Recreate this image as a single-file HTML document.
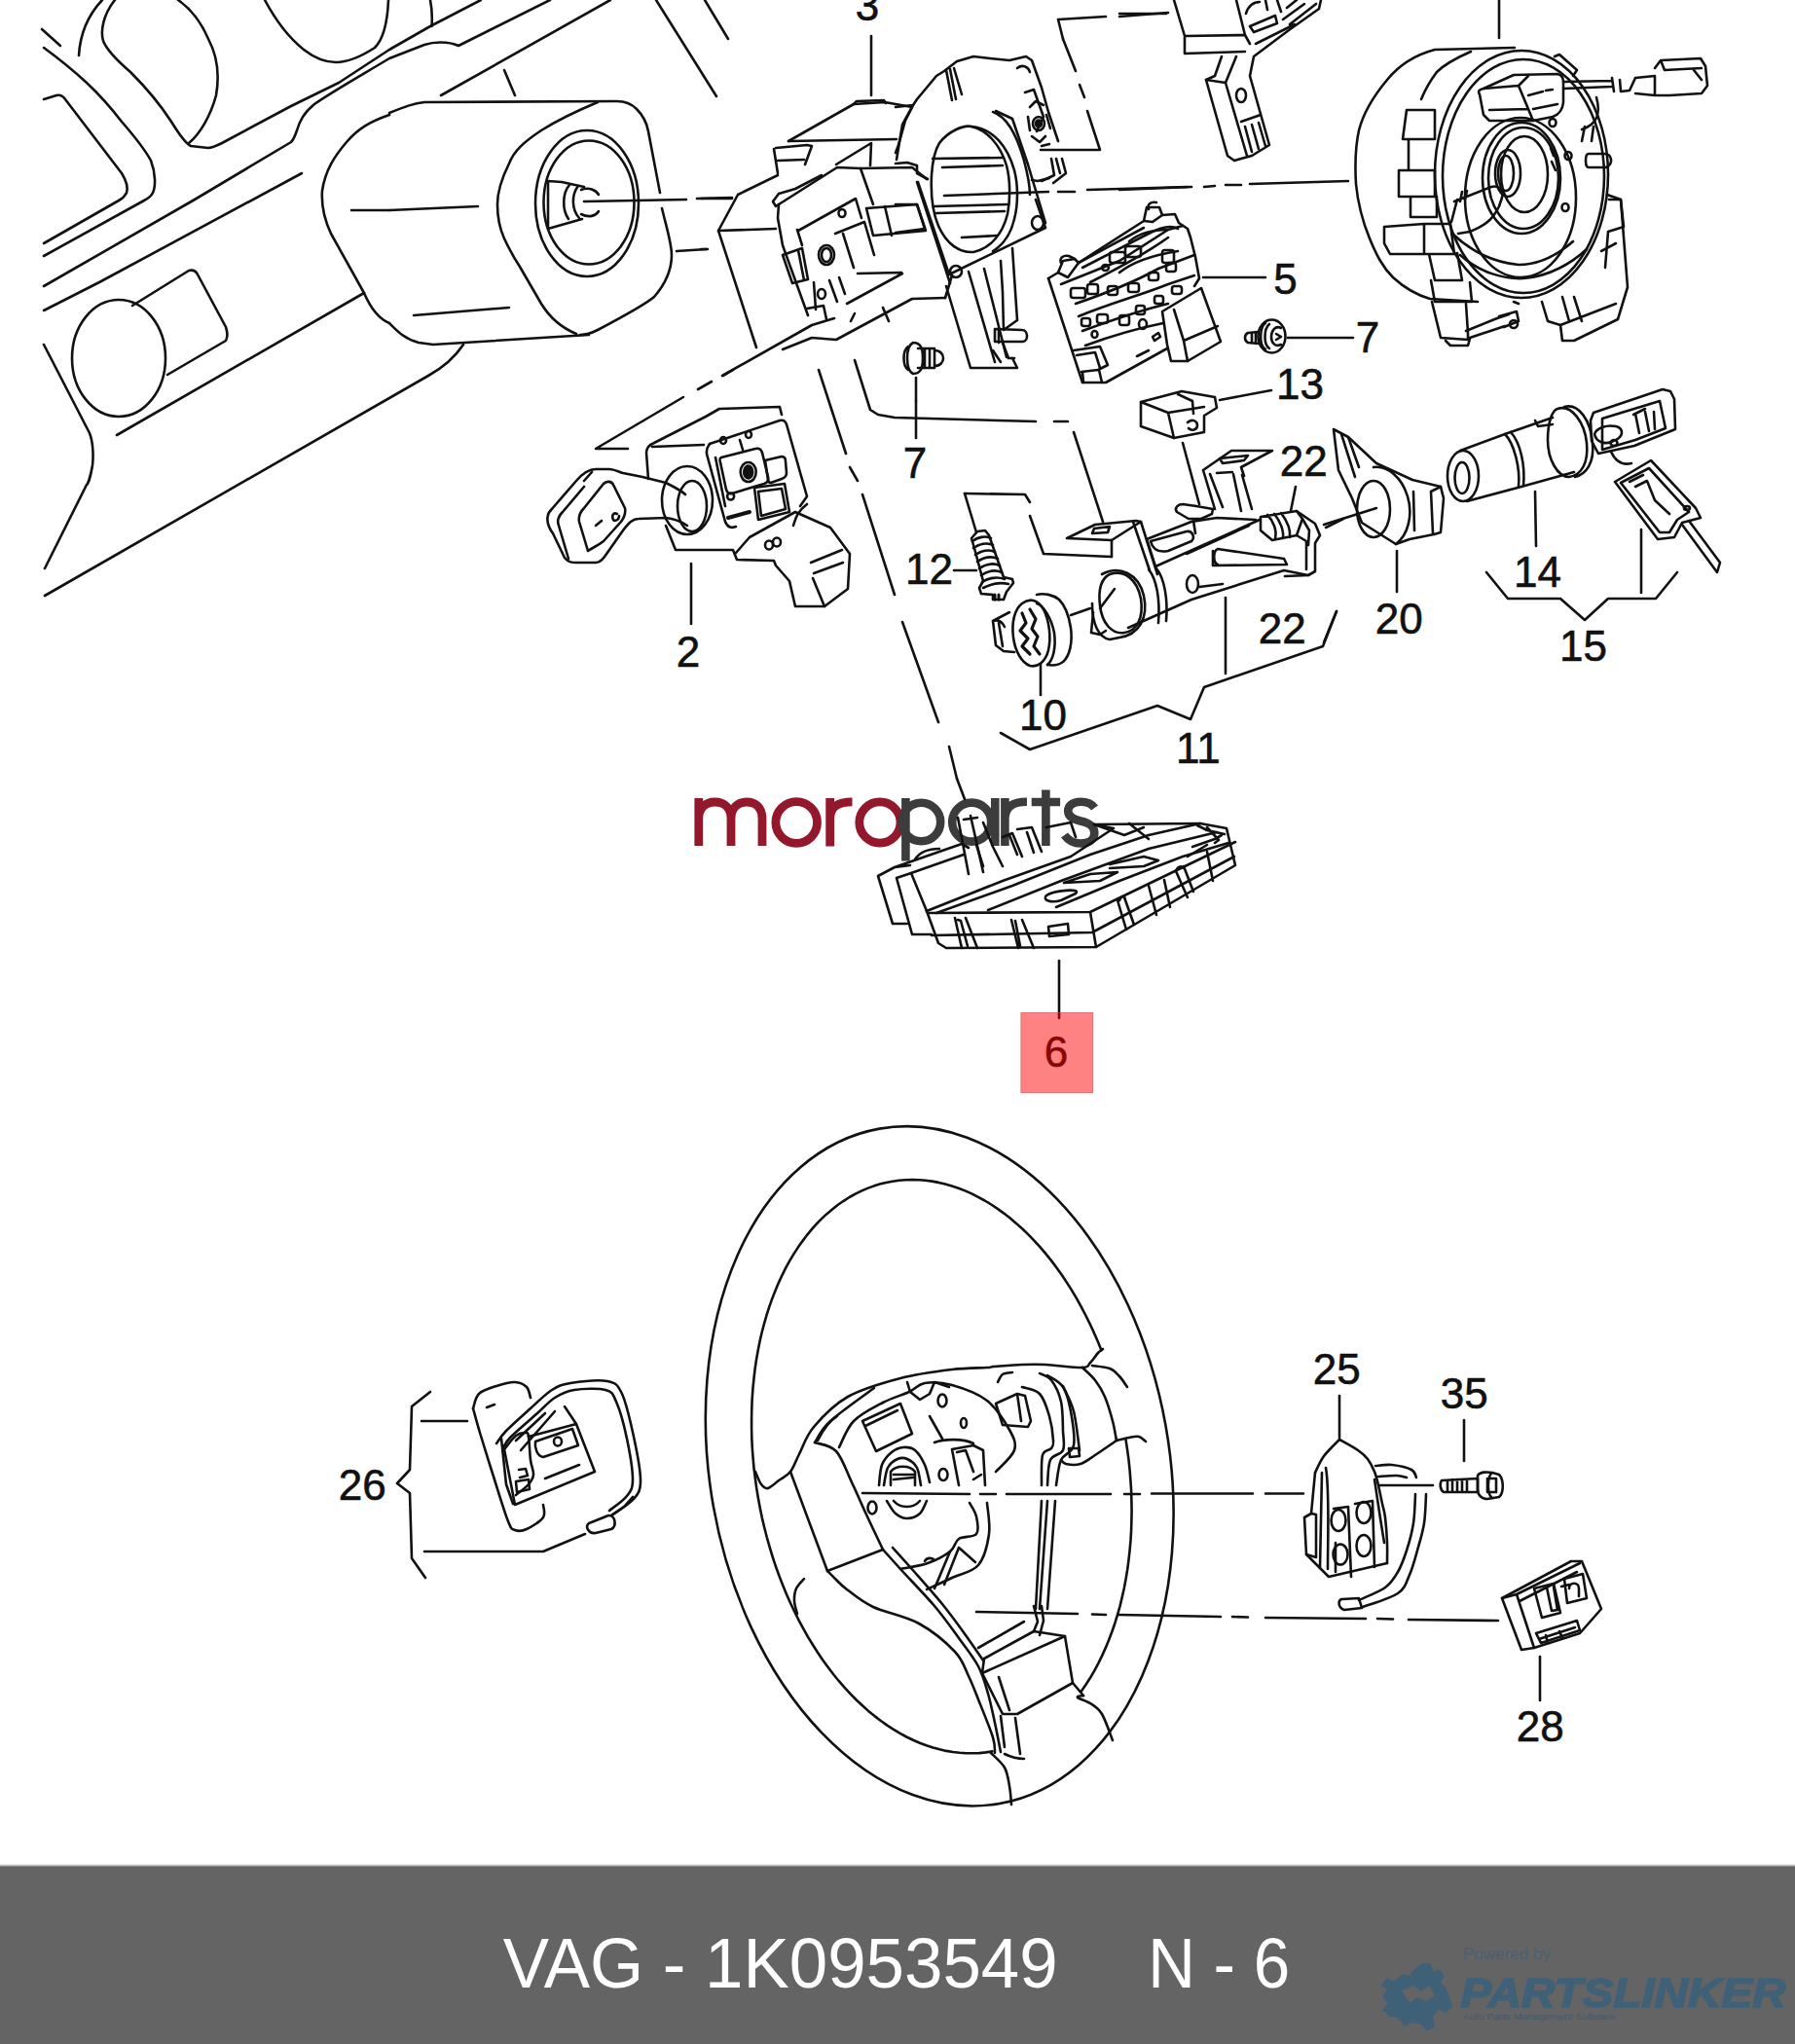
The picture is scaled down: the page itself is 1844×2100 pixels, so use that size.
<!DOCTYPE html>
<html><head><meta charset="utf-8"><style>
html,body{margin:0;padding:0;background:#fff;width:1844px;height:2100px;overflow:hidden}
svg{position:absolute;left:0;top:0}
.f{position:absolute;left:0;top:1917px;width:1844px;height:183px;background:#646464;border-top:2px solid #5c5c5c;box-sizing:border-box}
.t{position:absolute;font-family:"Liberation Sans",sans-serif;color:#fff;white-space:pre}
</style></head><body>
<svg width="1844" height="2100" viewBox="0 0 1844 2100">
<g fill="none" stroke-linecap="butt">
<g stroke="#94182b" stroke-width="8.8">
<path d="M717.8,869 L717.8,820 M717.8,841 C717.8,830 725,824 734.4,824 C744,824 751,830 751,841 L751,869 M751,841 C751,830 758,824 767,824 C776.5,824 783,830 783,841 L783,869"/>
<circle cx="818.2" cy="845" r="21.3"/>
<path d="M852.7,869.5 L852.7,820 M852.7,840 C853.5,829 861,823.8 875.5,823.8"/>
<circle cx="903.9" cy="845" r="21.1"/>
</g>
<g stroke="#3c3c3c" stroke-width="8.6">
<path d="M930.4,820 L930.4,884.6"/>
<circle cx="946.4" cy="844.5" r="19.8"/>
<circle cx="998.2" cy="844.6" r="20"/>
<path d="M1022.3,820 L1022.3,869"/>
<path d="M1032.4,869 L1032.4,820 M1032.4,840 C1033.2,829 1040.5,823.8 1055,823.8"/>
<path d="M1074.4,811.6 L1074.4,869 M1059.7,824 L1089.1,824"/>
<path d="M1124.5,830 C1121,825 1115,823.8 1110,823.8 C1102,823.8 1097.2,828 1097.2,833 C1097.2,839 1102,841.5 1110,843.5 C1119,845.5 1124.3,848.5 1124.3,856 C1124.3,863 1118,866.5 1110,866.5 C1103,866.5 1097.5,863.5 1093.5,858"/>
</g>
</g>
<g fill="none" stroke="#111" stroke-width="2.6" stroke-linejoin="round" stroke-linecap="round">
<!-- tile 0,0 dashboard left -->
<path d="M43,30 L62,47"/>
<path d="M81,57 C82,40 88,18 105,0"/>
<path d="M118,0 C106,15 103,32 106,42 C110,52 120,62 134,74 C150,90 165,108 176,125 C184,138 190,147 196,150 L214,152 C218,152 222,150 228,147 L299,109 L348,85 L400,51 L442,27 L494,0"/>
<path d="M194,147 C205,138 216,120 222,98 C226,75 222,55 214,40 C208,26 200,12 183,0"/>
<path d="M45,49 C60,60 75,72 89,85 C105,100 115,112 125,125 C138,140 148,152 155,165 C160,178 160,192 157,198 C155,202 152,204 148,206 L45,263"/>
<path d="M45,102 L58,98 C62,97 65,99 67,102 L125,178 C130,186 132,192 130,198 C128,202 126,204 122,206 L45,250"/>
<path d="M45,294 L200,205 L299,146 C302,143 303,140 305,134 C308,124 312,116 323,107 C340,95 370,78 400,60 L436,46 C445,43 460,42 471,47 L565,0"/>
<path d="M45,319 L102,290 L310,178"/>
<path d="M272,0 C280,15 292,35 312,51 C325,61 336,64 345,64 C356,64 368,60 385,49 C394,40 398,25 399,0"/>
<path d="M453,98 L627,0"/>
<path d="M442,0 C444,10 444,20 443.5,27"/>
<path d="M518,72 L529,98"/>
<path d="M674,0 L736,99"/>
<path d="M724,0 L748,40"/>
<!-- column cover -->
<path d="M400,118 C380,125 368,132 356,146 C344,160 334,175 331,196 C330,210 333,225 340,240 L374,301 C380,315 388,327 400,332 C408,340 415,348 430,352 L445,354 L605,344"/>
<path d="M400,116 C415,110 425,106 436,105 L634,104 C642,104 648,106 654,112 C660,118 664,124 666,135 L678,198"/>
<path d="M680,214 C685,235 690,250 690,262 C690,275 685,290 672,305 C665,311 650,320 614,339 C608,342 600,344 596,344"/>
<path d="M614,105 C590,115 572,124 556,134 C538,146 528,155 523,168 C515,184 511,196 511,210 C511,222 513,234 518,245 C525,260 530,268 534,274 L556,312 C564,325 575,336 592,343"/>
<ellipse cx="603" cy="209" rx="53" ry="75"/>
<ellipse cx="605" cy="208" rx="46.5" ry="63.5"/>
<path d="M400,216 L491,212"/><path d="M425,324 L523,316"/><path d="M695,258 L726,256"/>
<path d="M600,207 L705,205"/><path d="M716,204 L752,203"/>
<path d="M563,186 L577,187 L600,192 M563,186 L563,235 L577,231 L598,225 M585,190 C578,198 577,215 584,225 M594,191 C587,200 587,215 595,224 M597,195 C605,192 612,195 615,200 M597,220 C605,224 612,222 615,217" />
<path d="M476,354 C468,366 458,376 440,386 L46,612"/>
<!-- knob -->
<ellipse cx="122" cy="368" rx="48" ry="60"/>
<path d="M136,314 L194,278 C198,277 201,278 203,282 L232,336 C234,342 234,346 232,350 L172,385"/>
<path d="M45,354 L92,445 C96,455 96,470 95,478 C93,490 90,498 89,498 L46,584"/>
<path d="M120,447 L374,301"/>
<path d="M361,216 L400,216"/>
<!-- switch 2 -->
<path d="M645,461 L612,461 L702,408 M717,400 L731,392 M743,386 L753,380"/>
<path d="M666,492 L664,465 C664,460 667,457 672,455 L725,428 L739,420 L801,418 L803,426"/>
<path d="M670,459 L723,457"/>
<path d="M741,470 L776,461 C780,460 782,462 783,465 L789,490 C790,494 788,496 785,497 L752,507 C749,508 747,506 746,503 L740,475 C739,472 739,471 741,470 Z"/>
<ellipse cx="768.7" cy="485" rx="8" ry="10"/><ellipse cx="768.7" cy="485" rx="4.5" ry="6.5" fill="#111"/>
<ellipse cx="743" cy="452.5" rx="3" ry="3.5"/><ellipse cx="769" cy="446.5" rx="3" ry="3.5"/><ellipse cx="750.6" cy="510" rx="3.5" ry="3.5"/>
<path d="M786,473 L803,469 C806,469 807,471 807,474 L808,486 C808,489 806,491 803,492 L792,496 C790,496 789,495 789,493 Z"/>
<path d="M775,501 L806,497 L811,526 L779,534 Z M779,505 L803,502 L807,523 L782,530 Z"/>
<path d="M748,532 L770,526" stroke-width="4"/>
<path d="M735,470 L745,520 M760,452 L763,462"/>
<path d="M729,456 L801,432 C805,431 807,433 808,436 L829,510 L822,520"/>
<path d="M729,456 C726,460 725,465 727,470 L745,536 C747,541 751,543 756,541"/>
<path d="M684,540 L694,565 L753,565 L757,575 L795,576 L797,581 L811,597 L817,623 L847,623 L871,605 L873,569 L853,542 L817,526 L770,552 L756,568"/>
<path d="M829,518 C820,525 818,530 815,540"/>
<path d="M833,578 L865,565 M835,594 L847,623 M836,589 L866,578"/>
<ellipse cx="790" cy="560" rx="4" ry="4.5"/><ellipse cx="798" cy="557" rx="4" ry="4.5"/>
<path d="M566,524 C560,530 562,540 568,548 L580,573 C584,578 588,578 592,578 L612,578 C616,578 618,576 621,572 L640,545 C646,537 650,533 656,533 L684,532 C694,533 700,536 706,540"/>
<path d="M566,524 L592,494 C598,487 605,482 612,482 L626,482 C630,482 634,484 640,486 L660,490 L684,496 C692,500 700,504 704,508"/>
<path d="M584,574 L574,540 C572,535 574,530 578,526 L600,500 M600,494 L608,485"/>
<path d="M604,566 L595,536 C594,530 596,526 600,522 L620,497 C623,494 628,494 630,498 L642,522 C643,527 641,532 638,536 L620,556 C615,560 610,562 604,566"/>
<path d="M612,540 L618,535 M634,528 C630,526 628,530 630,534 C632,536 636,534 636,530"/>
<ellipse cx="706" cy="514" rx="26" ry="35"/>
<ellipse cx="711" cy="520" rx="15" ry="26"/>
<path d="M710,579 L710,641"/>
<!-- switch 3 -->
<path d="M895,37 L895,98"/>
<path d="M720,204 L752,204 M720,256 L727,256"/>
<path d="M777,357 L738,237 L758,200 L799,180"/>
<path d="M738,237 L797,235"/>
<path d="M795,153 L799,178 M797,152 L829,149 L834,150 L827,169 M799,165 L826,164"/>
<path d="M810,145 L877,107 L909,105 L937,110 L927,128 L921,164"/>
<path d="M877,107 L880,104 L908,103 L910,106"/>
<path d="M810,145 L921,143"/>
<path d="M859,169 L895,147 L894,170"/>
<path d="M800,210 L797,212 L794,207 L800,199 L817,194 L844,180"/>
<path d="M800,210 L860,172 L884,173 L937,172 L952,184"/>
<path d="M800,210 L799,224 L804,252 L830,324"/>
<path d="M884,173 L897,210"/>
<path d="M942,187 L976,291"/>
<path d="M742,386 L834,334 L857,327"/>
<path d="M804,359 L834,347 L859,349 L937,307 L971,306"/>
<path d="M870,312 L927,281 M881,281 L926,280"/>
<path d="M820,237 L879,204 L885,224 M819,236 L824,252"/>
<path d="M858,240 L888,228 L898,262 M866,240 L877,275"/>
<path d="M890,214 L942,210 L951,237 L897,242 Z M909,212 L916,242"/>
<path d="M804,262 L824,255 L830,287 L814,291 Z M820,257 L826,288"/>
<ellipse cx="849" cy="262" rx="8" ry="10"/><ellipse cx="849" cy="262" rx="5" ry="7"/>
<ellipse cx="865" cy="219" rx="3.5" ry="4"/><ellipse cx="844" cy="302" rx="4" ry="5"/>
<path d="M836,290 L838,318 M852,288 L860,310 M862,285 L868,302"/>
<path d="M878,322 L874,330 M907,316 L913,330"/>
<path d="M829,317 L846,314 L849,328"/>
<!-- ring part of 3 -->
<path d="M965,147 C974,135 990,128 998,130 C1015,134 1028,150 1034,170 C1038,185 1038,205 1035,220 C1030,240 1018,255 1000,259 C985,260 972,250 964,232 C958,218 956,200 957,180 C958,165 960,155 965,147 Z"/>
<path d="M998,130 C1020,132 1035,150 1042,175 C1046,190 1046,210 1042,225 C1038,242 1030,252 1020,258"/>
<path d="M1020,115 C1035,120 1045,140 1052,165 C1056,180 1058,190 1058,200"/>
<path d="M1023,114 L1040,122 L1056,169 L1074,229"/>
<path d="M943,187 L975,282 L1074,234 L1064,205"/>
<path d="M958,163 L1030,162 M968,172 L1030,170 M960,212 L1035,210 M962,219 L1032,217 M988,244 L1024,242"/>
<path d="M970,201 L1077,197 M1087,197 L1104,197 M1117,195 L1220,192"/>
<path d="M920,110 L938,108 L942,102 L962,78 L970,73 L983,63 L1000,58 L1017,60 L1037,62 L1054,58 L1060,62 L1070,90 L1077,115 L1087,145"/>
<path d="M938,108 L930,124 L923,149 L920,157"/>
<path d="M972,72 L978,103 M976,71 L982,102 M980,70 L988,97"/>
<path d="M1045,70 C1050,66 1056,68 1058,74 M1053,95 L1062,92 L1072,120 L1065,135"/>
<ellipse cx="1067" cy="127" rx="6" ry="7"/><ellipse cx="1067" cy="127" rx="3" ry="3.5" fill="#111"/>
<path d="M1058,110 L1064,104 L1072,108 M1060,140 L1068,146 L1074,140 M1075,118 L1079,132 M1056,120 L1058,134 M1070,150 L1078,148"/>
<path d="M1080,163 L1083,180 L1070,186 M1085,163 L1089,178 M1091,163 L1095,178 L1082,188"/>
<path d="M1060,185 L1066,186 L1078,183"/>
<ellipse cx="1066" cy="229" rx="6" ry="7"/>
<ellipse cx="982" cy="279" rx="6" ry="6"/>
<path d="M995,279 L1022,372 M1011,276 L1034,367 M1028,268 L1030,300 L1031,339 L1045,329 M1040,255 L1045,329"/>
<path d="M971,306 L978,283 M972,294 L997,378 L1045,378 L1040,368"/>
<path d="M1022,338 L1050,339 C1056,339 1057,350 1051,351 L1022,351 Z M1026,337 L1026,352"/>
<path d="M1030,352 L1036,368 L1042,368 M1020,360 L1028,372"/>
<path d="M920,210 L942,210 L950,235 L920,239"/>
<path d="M920,168 L932,167 L942,170 L942,178 L953,184"/>
<path d="M1092,40 L1105,73 M1109,87 L1114,100 M1117,114 L1130,154 L1069,154"/>
<path d="M1087,20 L1136,17 M1150,17 L1200,13 M1087,20 L1092,40"/>
<!-- bolt 7 left -->
<path d="M933,356 C927,360 927,376 933,380 M938,352 C930,356 930,380 938,384 C946,384 948,378 948,368 C948,358 946,352 938,352 M943,358 L960,358 L960,378 L943,378 M950,358 L950,378 M955,358 L955,378 M960,360 C972,360 972,376 960,376"/>
<path d="M941,388 L941,412"/>
<!-- top part 4 (cut) -->
<path d="M1150,14 L1198,14"/>
<path d="M1206,0 L1217,37 L1217,55 L1279,53 M1217,37 L1279,36 L1284,45 M1270,0 L1279,36"/>
<path d="M1357,0 L1355,9 L1324,31 L1288,58 L1284,78 L1304,149 L1286,160 L1268,165 L1261,160 L1239,82 L1248,78 L1255,58"/>
<path d="M1239,82 L1259,85 L1270,58 M1259,85 L1281,160"/>
<path d="M1275,125 L1295,118 M1279,130 L1286,156 M1286,128 L1293,153 M1293,126 L1300,150"/>
<ellipse cx="1275" cy="98" rx="5" ry="7"/>
<path d="M1284,27 L1310,16 L1312,24 L1288,33 Z M1318,20 L1340,4 M1325,25 L1352,4 M1322,8 L1332,0 M1290,45 L1330,25"/>
<path d="M1280,14 C1282,6 1288,2 1294,2 M1300,0 L1302,10 M1312,0 L1316,12"/>
<path d="M1150,195 L1224,192 M1237,192 L1248,191 M1259,190 L1275,190 M1284,189 L1385,186"/>
<!-- clock spring -->
<path d="M1540,0 L1540,39"/>
<path d="M1556,49 L1474,51 C1455,56 1438,66 1425,82 C1410,100 1400,118 1396,134 C1392,152 1392,172 1393,189 C1395,210 1400,228 1407,245 C1414,262 1420,274 1431,285 C1443,296 1455,303 1469,307 L1518,310"/>
<path d="M1511,53 C1495,60 1482,68 1476,74 C1470,82 1464,92 1460,102"/>
<ellipse cx="1563" cy="179" rx="89" ry="127"/>
<ellipse cx="1565" cy="181" rx="83" ry="120"/>
<ellipse cx="1562" cy="203" rx="57" ry="82" />
<ellipse cx="1563" cy="183" rx="40" ry="57"/>
<ellipse cx="1565" cy="183" rx="36" ry="52"/>
<ellipse cx="1566" cy="179" rx="24" ry="39"/>
<ellipse cx="1549" cy="178" rx="13" ry="24"/>
<ellipse cx="1547" cy="178" rx="8" ry="18"/>
<path d="M1520,97 C1518,94 1519,92 1524,91 L1555,77 L1600,76 C1605,77 1606,80 1606,84 L1606,105 C1605,115 1600,118 1595,120 L1575,124 L1560,124 L1530,124 L1524,118 Z"/>
<path d="M1524,91 L1560,88 L1570,78 M1560,88 L1575,124 M1530,113 L1570,112"/>
<path d="M1570,98 L1585,94 M1588,93 L1595,92 M1575,112 L1600,107"/>
<path d="M1606,84 L1656,83 M1606,91 L1656,89 M1656,80 L1658,94 M1664,82 L1665,94 L1674,93 L1680,80 L1700,78 L1700,98 L1680,96"/>
<path d="M1700,70 L1706,62 L1747,60 L1752,68 L1754,88 L1748,96 L1715,98 L1702,98 M1706,62 L1710,72 L1748,70 M1740,72 L1748,82"/>
<path d="M1597,58 L1602,56 L1620,72 L1616,78"/>
<path d="M1625,133 C1640,128 1645,118 1640,100 M1625,145 L1628,130 M1635,145 L1637,130 M1632,158 L1648,158 C1656,158 1658,168 1650,172 L1632,172 C1628,172 1628,158 1632,158"/>
<ellipse cx="1595" cy="126" rx="3.5" ry="4"/><ellipse cx="1611" cy="160" rx="3.5" ry="4"/><ellipse cx="1608" cy="213" rx="3.5" ry="4"/>
<path d="M1593,152 L1596,160 M1594,166 L1598,175"/>
<path d="M1494,207 L1532,192 C1540,190 1545,195 1543,203 L1540,212 C1535,222 1530,230 1510,238 L1498,240 M1491,228 L1497,205 M1500,207 L1502,197 M1505,205 L1507,196"/>
<!-- tabs -->
<path d="M1441,143 L1445,113 L1474,113 L1474,143 Z M1447,143 L1447,175 L1474,175 M1437,175 L1474,175 L1474,202 L1437,202 Z M1449,202 L1449,223 L1476,223 L1476,202"/>
<path d="M1422,233 L1463,230 L1463,261 L1428,261 L1422,250 Z M1463,230 L1490,230 L1494,261 L1463,261 M1468,261 L1474,288 L1502,288 L1497,260"/>
<path d="M1470,288 L1474,310 L1512,310 L1510,290"/>
<path d="M1492,240 C1515,262 1540,270 1560,272 C1580,272 1600,262 1616,248 M1500,262 C1520,280 1545,287 1565,286 C1592,284 1615,270 1630,256"/>
<!-- bottom brackets -->
<path d="M1471,310 L1480,347 L1508,349 L1508,342 L1506,312 M1485,350 L1490,355 L1508,355 L1510,348"/>
<path d="M1506,340 L1538,327 L1550,323 M1510,347 L1546,335 M1540,325 L1558,320 L1560,330 L1545,336 M1555,310 L1560,312"/>
<ellipse cx="1555" cy="333" rx="4" ry="4"/>
<path d="M1584,310 L1590,330 L1603,334 L1605,350 L1617,350 L1662,328 L1672,295 L1665,205 L1651,200"/>
<path d="M1603,334 L1660,312 M1605,305 L1612,330 M1625,330 L1617,305"/>
<path d="M1653,205 L1665,205 L1668,233 L1652,238 M1652,238 L1649,275 M1645,258 L1660,250"/>
<!-- part 5 -->
<path d="M1077,286 L1112,393 L1136,393 L1199,358"/>
<path d="M1077,286 L1087,280 L1092,268 L1104,266 L1108,270 L1175,227 L1178,213 L1191,213 L1194,221 L1207,220 L1211,229 L1220,235 L1223,244 L1228,264 L1232,286 L1227,294"/>
<path d="M1087,280 L1097,285 L1108,270 M1175,227 L1184,228 L1194,221"/>
<path d="M1194,320 L1234,296 L1254,351 L1220,371 L1203,371 L1199,354 L1194,320"/>
<path d="M1206,318 L1216,350 L1251,335 M1216,350 L1220,371"/>
<path d="M1103,360 L1130,356 L1138,375 L1128,380 L1111,382 M1106,365 L1125,362 L1130,378 M1112,382 L1113,393 M1129,380 L1132,393"/>
<path d="M1090,292 L1150,268 L1200,236 L1215,232"/>
<path d="M1105,312 C1140,300 1165,290 1190,276 L1227,262"/>
<path d="M1108,325 C1145,310 1170,304 1200,292 L1227,283"/>
<path d="M1112,340 C1150,326 1175,318 1200,312"/>
<path d="M1115,355 C1150,342 1175,336 1195,332"/>
<path d="M1108,270 L1175,234 M1112,275 L1180,240 C1195,232 1205,232 1210,235"/>
<path d="M1120,290 C1150,275 1175,262 1200,244"/>
<g>
<rect x="1140" y="259" width="16" height="11" rx="2.5"/>
<rect x="1156" y="253" width="16" height="11" rx="2.5"/>
<rect x="1194" y="257" width="12" height="13" rx="2.5"/>
<rect x="1117" y="292" width="11" height="10" rx="2.5"/>
<rect x="1138" y="294" width="10" height="9" rx="2.5"/>
<rect x="1159" y="291" width="11" height="9" rx="2.5"/>
<rect x="1180" y="280" width="10" height="8" rx="2.5"/>
<rect x="1198" y="270" width="10" height="9" rx="2.5"/>
<rect x="1100" y="296" width="15" height="10" rx="2.5"/>
<rect x="1127" y="323" width="11" height="9" rx="2.5"/>
<rect x="1150" y="324" width="10" height="10" rx="2.5"/>
<rect x="1167" y="314" width="9" height="9" rx="2.5"/>
<rect x="1186" y="304" width="9" height="8" rx="2.5"/>
<rect x="1204" y="294" width="10" height="8" rx="2.5"/>
<rect x="1111" y="327" width="9" height="8" rx="2.5"/>
<ellipse cx="1135.5" cy="275" rx="3.5" ry="3"/><ellipse cx="1174" cy="333" rx="4" ry="5"/><ellipse cx="1124.5" cy="343.5" rx="3" ry="3.5"/>
<path d="M1184,346 L1190,342 L1192,346 L1186,350 Z M1168,366 L1180,360"/>
<path d="M1090,270 C1088,265 1092,262 1098,263 L1104,266 M1180,215 C1178,210 1182,207 1188,208"/>
<path d="M1160,248 C1170,240 1185,236 1200,236 M1150,280 C1165,268 1185,262 1210,258"/>
</g>

<path d="M1236,285 L1300,285"/>
<!-- middle: 7 leader, 12, 10, 11, 13 -->
<path d="M941,412 L941,450"/>
<path d="M878,370 L894,421 L902,426 L919,429 L1064,433 M1083,433 L1097,433"/>
<path d="M1103,444 L1133,536"/>
<path d="M991,507 L1053,508 L1058,516 M1058,530 L1072,569 L1142,572"/>
<path d="M991,507 L1003,547"/>
<path d="M841,380 L869,466 M873,480 L881,494 M886,508 L919,611 M927,639 L964,742 M975,767 L983,800"/>
<!-- screw 12 -->

<path d="M998,553 L1002,567 L1010,597 L1006,604 L1008,610 L1020,611 L1020,616 L1031,616 L1034,608 L1041,599 L1040,595 L1031,593 L1016,550 L1012,545 L1004,546 Z"/>
<path d="M999,556 C1004,552 1012,550 1018,553 M1000,563 C1006,559 1014,557 1020,560 M1002,570 C1008,566 1016,564 1022,567 M1004,577 C1010,573 1018,571 1025,574 M1006,584 C1012,580 1020,578 1027,581 M1008,591 C1014,587 1022,585 1029,588 M1009,598 C1015,594 1024,592 1032,595 M1010,604 C1018,600 1028,598 1036,600"/>
<path d="M1022,611 L1022,616 M1026,611 L1026,616" stroke-width="3"/>
<path d="M980,586 L1003,586"/>
<!-- 11 housing -->
<path d="M1096,553 L1125,539 L1167,535 L1172,536 L1142,555 L1096,553 Z M1124,543 L1140,541 L1138,547 L1122,548 Z"/>
<path d="M1142,555 L1142,572 M1164,536 L1181,586 M1172,536 L1189,590"/>
<path d="M1159,645 L1224,616 L1319,586 L1344,591"/>
<path d="M1236,483 L1265,463 L1307,463 L1275,480 L1278,489 M1236,483 L1248,523 M1243,487 L1256,521 M1267,487 L1275,525 M1276,488 L1286,523"/>
<path d="M1253,471 L1282,468 L1278,473 L1256,476 Z M1250,486 L1266,485"/>
<path d="M1209,526 C1206,522 1210,518 1215,518 L1229,520 L1246,523 L1245,528 L1234,533 L1221,533 Z M1226,535 L1228,548"/>
<path d="M1178,554 L1224,536 M1178,554 L1187,582 M1187,582 L1294,534 M1219,569 L1283,540 M1224,536 L1250,532 L1290,534"/>
<path d="M1182,556 L1219,546 C1225,545 1228,552 1224,556 L1200,566 C1190,568 1184,564 1182,556 Z"/>
<path d="M1295,531 L1332,525 L1338,533 L1332,550 L1307,555 L1295,545 Z M1302,529 C1308,535 1312,545 1310,553 M1309,528 C1315,535 1319,545 1318,553 M1316,527 C1322,535 1326,545 1325,552"/>
<path d="M1332,525 L1351,538 L1356,550 L1351,558 L1351,587 L1344,591 L1320,592 M1338,533 L1345,545 L1344,560 M1332,550 L1342,556 L1342,585"/>
<path d="M1251,564 L1319,574 M1251,564 C1246,566 1246,578 1251,580 M1246,566 L1246,581 L1322,580 M1319,574 L1322,580"/>
<path d="M1215,455 L1232,518"/>

<path d="M1140,590 C1155,585 1168,595 1172,615 C1175,635 1168,648 1155,650 C1142,652 1132,640 1130,622 C1128,605 1132,594 1140,590 Z"/>
<path d="M1132,590 C1150,580 1170,590 1175,612 C1180,635 1170,652 1150,655 L1140,657 C1128,655 1122,640 1122,620"/>
<path d="M1180,585 C1188,595 1192,615 1190,640 M1188,584 C1196,594 1200,615 1198,638 M1145,605 L1130,625"/>
<path d="M1123,629 L1121,650 L1130,652 L1136,648"/>
<ellipse cx="1225" cy="600" rx="6" ry="9"/><path d="M1232,603 L1256,600"/>
<!-- 10 -->
<path d="M1065,611 C1072,609 1082,611 1088,616 C1094,622 1098,632 1100,645 C1102,660 1099,674 1092,680 C1088,683 1082,684 1076,683"/>
<path d="M1065,620 C1072,622 1080,635 1083,650 C1085,665 1082,678 1076,683"/>
<path d="M1050,620 C1058,614 1066,616 1072,626 C1078,638 1080,655 1077,668 C1074,680 1066,686 1058,684 C1050,681 1043,670 1041,655 C1039,640 1042,626 1050,620 Z"/>
<path d="M1020,638 L1037,629 M1020,638 L1023,663 L1031,669 L1042,670 M1026,640 L1030,664 M1020,638 C1026,636 1030,640 1032,644"/>
<path d="M1050,630 L1054,640 L1048,648 L1056,656 L1050,664 L1058,672 M1058,626 L1064,636 L1060,646 L1066,654 L1062,664 L1068,672" stroke-width="3.2"/>
<path d="M1100,632 L1120,625"/>
<path d="M1069,683 L1069,714"/>
<!-- 11 bracket -->
<path d="M1028,753 L1058,770 L1189,725 L1223,739 L1237,706 L1359,664 L1373,628"/>
<path d="M1259,614 L1259,692"/>
<!-- 22 leaders -->
<path d="M1331,500 L1326,525 M1362,542 L1380,533"/>
<!-- 13 -->
<path d="M1172,413 L1214,402 L1248,408 L1250,419 L1237,427 L1237,444 L1206,450 L1172,438 Z"/>
<path d="M1172,413 L1200,424 L1206,450 M1200,424 L1237,418 M1210,405 L1225,412 L1226,425 M1220,434 C1224,430 1230,432 1230,437 C1230,442 1224,443 1221,440"/>
<path d="M1253,411 L1306,401"/>
<!-- part 20 -->
<path d="M1370,441 L1385,449 L1414,476 L1451,493 L1480,500 L1483,512 L1480,547 L1473,549 L1448,554 L1434,559 L1399,537 L1389,512 L1375,483 Z"/>
<path d="M1378,446 L1392,490 M1385,449 L1396,480"/>
<ellipse cx="1411" cy="523" rx="17" ry="29"/>
<path d="M1411,480 C1425,478 1440,490 1446,510 C1452,530 1446,550 1434,559"/>
<path d="M1452,505 L1453,545 M1470,505 L1480,500 M1470,505 L1472,548"/>
<path d="M1360,539 L1414,522"/>
<path d="M1435,566 L1435,608"/>
<path d="M1373,628 L1360,660"/>
<!-- part 14 -->
<ellipse cx="1503" cy="489" rx="16" ry="26"/>
<ellipse cx="1502" cy="491" rx="7.5" ry="16"/>
<path d="M1500,463 L1546,446 L1595,429 M1507,515 L1563,500 L1617,485"/>
<path d="M1546,446 C1555,455 1562,480 1560,500 M1552,444 C1562,455 1567,478 1565,499"/>
<path d="M1577,432 L1580,438 L1595,436"/>
<path d="M1600,420 C1615,415 1628,435 1630,455 C1632,475 1625,488 1612,490 C1600,490 1590,472 1590,452 C1590,435 1594,422 1600,420 Z"/>
<path d="M1607,418 C1622,414 1634,432 1636,455 C1638,475 1630,487 1618,490"/>
<path d="M1577,505 L1578,561"/>
<path d="M1527,588 L1549,615 L1603,615 L1628,637 L1652,615 L1701,615 L1723,588"/>
<path d="M1686,544 L1686,609"/>
<!-- keys -->
<path d="M1637,424 L1708,400 L1716,402 L1720,410 L1721,441 L1679,458 L1642,466 L1635,453 L1634,432 Z"/>
<path d="M1646,430 L1705,412 L1711,440 L1680,452 L1646,462 Z M1680,425 L1684,445 M1690,423 L1694,443 M1699,423 L1700,441 M1678,426 L1690,420"/>
<path d="M1638,446 C1640,455 1650,458 1660,452 C1668,448 1668,440 1660,438 C1650,436 1640,440 1638,446 Z"/>
<ellipse cx="1658" cy="455" rx="3.5" ry="3"/>
<path d="M1655,464 C1660,475 1668,478 1676,476"/>
<path d="M1659,495 L1696,473 L1742,522 L1747,532 L1728,537 L1720,552 L1703,554 Z"/>
<path d="M1665,496 L1694,481 L1735,526 L1723,534 L1715,547 L1705,547 Z M1674,495 L1688,488 M1680,500 L1692,494 L1700,514 L1715,528"/>
<ellipse cx="1733" cy="522" rx="3" ry="2"/>
<path d="M1728,539 L1764,588 L1767,578 L1735,535"/>
<!-- module 6 -->
<path d="M983,800 L991,821"/>
<path d="M902,900 L919,891 L935,889 M902,900 L917,949 L932,949 M919,891 L988,867 L995,871"/>
<path d="M921,902 L937,960 L957,960 M921,902 L936,897 L990,878"/>
<path d="M936,897 L952,936"/>
<path d="M952,936 L964,969 L972,974 L1126,973 L1269,889 L1260,851 L1233,846 L1124,847"/>
<path d="M952,936 L1030,905 L1100,880 L1144,851 L1124,847"/>
<path d="M962,938 L1040,910 L1120,878 L1180,858 L1233,846"/>
<path d="M1015,935 L1090,905 L1180,872 L1250,855"/>
<path d="M1085,932 L1150,905 L1215,880 L1262,866"/>
<path d="M955,938 L1120,937 L1269,865"/>
<path d="M957,961 L1122,958 L1268,880"/>
<path d="M1120,937 L1126,973"/>
<path d="M981,943 L988,974 M992,943 L1004,974 M984,945 L987,946 L994,972 M1039,945 L1046,974 M1050,945 L1062,974 M1043,946 L1048,972"/>
<path d="M1077,952 L1097,949 L1098,960 L1078,962 Z"/>
<path d="M1148,925 L1157,955 M1155,922 L1165,950 M1150,925 C1152,920 1155,920 1156,924"/>
<path d="M1208,895 L1220,922 M1216,890 L1226,916 M1208,895 C1210,890 1214,889 1216,892"/>
<path d="M1180,910 L1188,940 M1240,875 L1246,905 M1196,904 L1202,932"/>
<path d="M1093,907 L1130,905 L1148,896 L1120,898 Z M1105,918 C1112,912 1082,915 1075,920 C1070,925 1080,928 1090,925 Z"/>
<path d="M1140,888 L1175,880 L1190,884 L1175,890 L1140,892"/>
<path d="M1220,880 L1240,868 M1225,870 L1248,862 L1255,858"/>
<path d="M984,840 L995,898 M997,838 L1010,896 M990,842 L1004,840 M1010,845 L1020,870 L1030,890"/>
<path d="M1030,860 L1040,856 L1050,880 M1045,852 L1060,850 L1070,875 M1037,858 L1045,878 M1055,855 L1062,876"/>
<path d="M1075,850 L1100,845 L1105,860 M1003,868 L1010,890 M940,883 C945,875 955,872 965,872"/>
<path d="M1124,847 L1155,858 L1175,850 M1160,846 L1180,862"/>
<path d="M1230,848 L1240,853 L1258,857 M1240,850 L1252,863 L1248,866"/>
<path d="M1088,987 L1088,1046"/>
<!-- steering wheel -->
<ellipse cx="965.2" cy="1506.3" rx="352.1" ry="236" transform="rotate(79.91 965.2 1506.3)"/>
<path d="M1131.5,1387.4 L1127.7,1378.1 L1123.7,1368.9 L1119.5,1359.8 L1115.1,1351 L1110.6,1342.3 L1105.9,1333.9 L1101,1325.6 L1095.9,1317.6 L1090.7,1309.8 L1085.3,1302.2 L1079.8,1294.9 L1074.1,1287.9 L1068.4,1281.1 L1062.4,1274.6 L1056.4,1268.4 L1050.3,1262.5 L1044,1256.9 L1037.7,1251.6 L1031.3,1246.6 L1024.8,1241.9 L1018.2,1237.5 L1011.6,1233.5 L1004.9,1229.8 L998.2,1226.4 L991.4,1223.4 L984.6,1220.8 L977.8,1218.5 L971,1216.5 L964.2,1214.9 L957.3,1213.6 L950.5,1212.7 L943.7,1212.2 L936.9,1212.1 L930.2,1212.2 L923.5,1212.8 L916.9,1213.7 L910.3,1215 L903.8,1216.6 L897.4,1218.6 L891.1,1220.9 L884.8,1223.6 L878.7,1226.7 L872.6,1230 L866.7,1233.8 L860.9,1237.8 L855.3,1242.2 L849.7,1246.9 L844.3,1251.9 L839.1,1257.2 L834,1262.9 L829.1,1268.8 L824.4,1275.1 L819.8,1281.6 L815.4,1288.4 L811.2,1295.4 L807.2,1302.7 L803.4,1310.3 L799.8,1318.1 L796.4,1326.2 L793.2,1334.4 L790.2,1342.9 L787.4,1351.6 L784.9,1360.4 L782.5,1369.5 L780.4,1378.7 L778.6,1388 L776.9,1397.5 L775.5,1407.2 L774.4,1417 L773.4,1426.8 L772.7,1436.8 L772.3,1446.9 L772.1,1457 L772.1,1467.2 L772.3,1477.4 L772.8,1487.7 L773.6,1498 L774.5,1508.3 L775.8,1518.6 L777.2,1528.9 L778.9,1539.2 L780.8,1549.4 L782.9,1559.6 L785.3,1569.7 L787.9,1579.8 L790.7,1589.7 L793.7,1599.5 L796.9,1609.3 L800.4,1618.9 L804,1628.3 L807.9,1637.7 L811.9,1646.8 L816.2,1655.8 L820.6,1664.6 L825.2,1673.2 L829.9,1681.6 L834.9,1689.8 L840,1697.8 L845.2,1705.5 L850.7,1713 L856.2,1720.2 L861.9,1727.2 L867.7,1733.9 L873.7,1740.3 L879.7,1746.5 L885.9,1752.3 L892.1,1757.9 L898.5,1763.1 L904.9,1768 L911.4,1772.6 L918,1776.9 L924.7,1780.9 L931.3,1784.5 L938.1,1787.7 L944.9,1790.7 L951.7,1793.2 L958.5,1795.5 L965.3,1797.3 L972.1,1798.9 L979,1800 L985.8,1800.8 L992.6,1801.3 L999.3,1801.3 L1006.1,1801.1 L1012.7,1800.4 L1019.4,1799.4"/>
<path d="M1156.5,1479.1 L1158.1,1489.5 L1159.5,1499.9 L1160.6,1510.4 L1161.4,1520.8 L1162.1,1531.2 L1162.4,1541.6 L1162.6,1552 L1162.4,1562.3 L1162.1,1572.5 L1161.5,1582.7 L1160.6,1592.7 L1159.5,1602.6 L1158.2,1612.5 L1156.6,1622.1 L1154.8,1631.7 L1152.7,1641.1 L1150.5,1650.3 L1147.9,1659.3 L1145.2,1668.2 L1142.2,1676.8 L1139,1685.2 L1135.6,1693.4 L1132,1701.4 L1128.2,1709.1 L1124.2,1716.6 L1120,1723.8 L1115.5,1730.7 L1110.9,1737.4"/>
<path d="M776,1512 C777.0,1514.2 779.8,1522.2 782,1525 C784.2,1527.8 786.0,1529.7 789,1529 C792.0,1528.3 796.2,1523.8 800,1521 C803.8,1518.2 808.5,1516.5 812,1512 C815.5,1507.5 817.0,1501.7 821,1494 C825.0,1486.3 827.7,1475.8 836,1466 C844.3,1456.2 856.2,1443.3 871,1435 C885.8,1426.7 907.2,1420.7 925,1416 C942.8,1411.3 963.2,1408.8 978,1407 C992.8,1405.2 1007.0,1405.5 1014,1405 C1021.0,1404.5 1019.0,1404.2 1020,1404"/>
<path d="M812,1512 L850,1614 L907,1592"/>
<path d="M837,1482 C840.7,1483.5 852.7,1484.2 859,1491 C865.3,1497.8 869.8,1512.2 875,1523 C880.2,1533.8 884.7,1544.5 890,1556 C895.3,1567.5 904.2,1586.0 907,1592"/>
<path d="M837,1482 C839.7,1478.3 842.8,1469.3 853,1460 C863.2,1450.7 890.5,1431.7 898,1426"/>
<path d="M840,1480 C845,1470 852,1460 860,1455"/>
<path d="M850,1614 C851.3,1615.3 854.7,1618.8 858,1622 C861.3,1625.2 863.5,1628.2 870,1633 C876.5,1637.8 884.7,1645.2 897,1651 C909.3,1656.8 930.0,1660.3 944,1668 C958.0,1675.7 972.5,1688.0 981,1697 C989.5,1706.0 991.0,1713.8 995,1722 C999.0,1730.2 1000.8,1735.5 1005,1746 C1009.2,1756.5 1017.2,1775.8 1020,1785 C1022.8,1794.2 1021.7,1798.3 1022,1801"/>
<path d="M826,1622 C824.7,1623.7 819.7,1628.2 818,1632 C816.3,1635.8 815.8,1640.7 816,1645 C816.2,1649.3 818.5,1655.8 819,1658"/>
<path d="M907,1592 C910.0,1595.3 916.2,1602.3 925,1612 C933.8,1621.7 950.0,1638.2 960,1650 C970.0,1661.8 977.5,1672.7 985,1683 C992.5,1693.3 1000.0,1702.5 1005,1712 C1010.0,1721.5 1012.2,1730.3 1015,1740 C1017.8,1749.7 1019.8,1760.0 1022,1770 C1024.2,1780.0 1027.0,1795.0 1028,1800"/>
<path d="M917,1590 C920.0,1593.3 926.5,1600.3 935,1610 C943.5,1619.7 958.5,1636.3 968,1648 C977.5,1659.7 985.0,1670.3 992,1680 C999.0,1689.7 1007.0,1701.7 1010,1706"/>
<path d="M862,1487 C864.5,1482.5 869.5,1467.7 877,1460 C884.5,1452.3 897.5,1446.0 907,1441 C916.5,1436.0 926.8,1433.3 934,1430 C941.2,1426.7 942.7,1422.2 950,1421 C957.3,1419.8 967.3,1420.0 978,1423 C988.7,1426.0 1004.2,1431.3 1014,1439 C1023.8,1446.7 1032.3,1460.5 1037,1469 C1041.7,1477.5 1044.3,1482.8 1042,1490 C1039.7,1497.2 1026.2,1508.3 1023,1512"/>
<path d="M886,1460 L925,1442 L937,1473 L900,1491 Z M889,1465 L922,1449"/>
<path d="M903,1526 C903.5,1522.5 903.8,1510.7 906,1505 C908.2,1499.3 912.3,1495.0 916,1492 C919.7,1489.0 924.0,1487.3 928,1487 C932.0,1486.7 936.3,1487.0 940,1490 C943.7,1493.0 947.5,1499.5 950,1505 C952.5,1510.5 954.2,1520.0 955,1523"/>
<path d="M908,1526 C908.7,1523.0 909.7,1512.5 912,1508 C914.3,1503.5 918.7,1500.5 922,1499 C925.3,1497.5 928.7,1497.5 932,1499 C935.3,1500.5 939.7,1503.5 942,1508 C944.3,1512.5 945.3,1523.0 946,1526"/>
<path d="M915,1526 L915,1512 C920,1505 935,1505 940,1512 L940,1526 M918,1515 L938,1515 M918,1520 L938,1518"/>
<path d="M911,1542 C912.5,1544.2 916.5,1552.0 920,1555 C923.5,1558.0 927.8,1560.0 932,1560 C936.2,1560.0 941.7,1558.0 945,1555 C948.3,1552.0 950.8,1544.2 952,1542"/>
<path d="M918,1542 C925,1550 938,1550 945,1542"/>
<ellipse cx="896" cy="1549" rx="4.5" ry="6.5"/><ellipse cx="969" cy="1515" rx="4.5" ry="6"/><ellipse cx="968" cy="1439" rx="4.5" ry="6.5"/><ellipse cx="990" cy="1462" rx="3" ry="5"/>
<path d="M978,1489 L1000,1485 L1010,1490 L1012,1526 M978,1489 L985,1526 M983,1492 L992,1490 L1000,1512 M1000,1520 L1008,1515"/>
<path d="M960,1482 C970,1478 990,1478 1000,1483 M955,1455 L968,1478"/>
<path d="M975,1425 L960,1420 L955,1432 L945,1438 L935,1430 L932,1420"/>
<path d="M996,1544 C997.2,1546.3 1001.8,1552.7 1003,1558 C1004.2,1563.3 1006.0,1572.2 1003,1576 C1000.0,1579.8 989.5,1578.0 985,1581 C980.5,1584.0 981.3,1589.8 976,1594 C970.7,1598.2 961.5,1603.0 953,1606 C944.5,1609.0 929.7,1611.0 925,1612"/>
<path d="M1014,1544 C1014.3,1549.3 1017.5,1565.3 1016,1576 C1014.5,1586.7 1011.3,1600.5 1005,1608 C998.7,1615.5 986.8,1616.8 978,1621 C969.2,1625.2 956.3,1631.0 952,1633"/>
<path d="M976,1594 L960,1632 M985,1590 L970,1628 M985,1590 L1002,1605"/>
<path d="M950,1604 C952,1600 958,1600 960,1603"/>
<path d="M1023,1442 L1045,1432 L1053,1434 L1059,1460 L1056,1466 L1030,1464 Z M1045,1432 L1049,1460"/>
<path d="M1020,1404 C1025.0,1403.7 1041.0,1402.3 1050,1402 C1059.0,1401.7 1063.7,1401.5 1074,1402 C1084.3,1402.5 1104.3,1405.3 1112,1405 C1119.7,1404.7 1117.3,1402.5 1120,1400 C1122.7,1397.5 1125.8,1392.3 1128,1390 C1130.2,1387.7 1132.2,1386.7 1133,1386"/>
<path d="M1112,1405 C1114.2,1407.2 1121.2,1413.0 1125,1418 C1128.8,1423.0 1132.0,1428.0 1135,1435 C1138.0,1442.0 1141.0,1452.5 1143,1460 C1145.0,1467.5 1146.3,1476.7 1147,1480"/>
<path d="M1122,1403 C1125.0,1403.5 1135.3,1404.2 1140,1406 C1144.7,1407.8 1147.0,1410.8 1150,1414 C1153.0,1417.2 1156.7,1423.2 1158,1425"/>
<path d="M1147,1480 C1143.3,1482.5 1131.2,1491.0 1125,1495 C1118.8,1499.0 1115.0,1502.5 1110,1504 C1105.0,1505.5 1098.3,1504.7 1095,1504 C1091.7,1503.3 1090.8,1500.7 1090,1500"/>
<path d="M1147,1480 C1149.2,1479.5 1156.2,1477.7 1160,1477 C1163.8,1476.3 1167.2,1475.3 1170,1476 C1172.8,1476.7 1175.8,1480.2 1177,1481"/>
<path d="M1050,1425 C1053.0,1426.2 1063.3,1427.0 1068,1432 C1072.7,1437.0 1075.7,1447.0 1078,1455 C1080.3,1463.0 1081.7,1474.5 1082,1480 C1082.3,1485.5 1081.8,1485.5 1080,1488 C1078.2,1490.5 1072.7,1488.7 1071,1495 C1069.3,1501.3 1070.2,1520.8 1070,1526"/>
<path d="M1068,1411 C1070.0,1412.2 1076.3,1413.2 1080,1418 C1083.7,1422.8 1088.0,1431.3 1090,1440 C1092.0,1448.7 1091.7,1461.7 1092,1470 C1092.3,1478.3 1094.2,1485.0 1092,1490 C1089.8,1495.0 1081.7,1494.0 1079,1500 C1076.3,1506.0 1076.5,1521.7 1076,1526"/>
<path d="M1076,1413 C1078.7,1415.0 1088.0,1418.8 1092,1425 C1096.0,1431.2 1098.2,1440.0 1100,1450 C1101.8,1460.0 1104.7,1476.7 1103,1485 C1101.3,1493.3 1093.0,1493.2 1090,1500 C1087.0,1506.8 1085.8,1521.7 1085,1526"/>
<path d="M1092,1424 C1093.8,1428.3 1100.2,1439.0 1103,1450 C1105.8,1461.0 1108.0,1483.3 1109,1490"/>
<path d="M1098,1488 L1108,1488 L1109,1496 L1099,1497 Z"/>
<path d="M1040,1410 C1038.3,1410.3 1032.5,1410.3 1030,1412 C1027.5,1413.7 1025.8,1418.7 1025,1420"/>
<path d="M1070,1542 L1064,1653 M1076,1542 L1068,1653 M1084,1542 L1076,1653"/>
<path d="M1009,1719 L1094,1681 L1102,1729 L1045,1761 L1030,1761 Z"/>
<path d="M1011,1704 L1062,1676 L1094,1681 M1005,1693 L1052,1666 M1009,1719 L1011,1704 M1026,1723 L1037,1757"/>
<path d="M1062,1676 L1066,1666 L1062,1650 M1068,1680 L1072,1665 L1070,1650"/>
<path d="M1028,1763 L1032,1795 M1043,1765 L1048,1802 M1032,1802 C1040,1806 1045,1807 1052,1807"/>
<path d="M1018,1801 C1020.3,1803.5 1028.8,1810.3 1032,1816 C1035.2,1821.7 1035.8,1828.7 1037,1835 C1038.2,1841.3 1038.7,1850.8 1039,1854"/>
<path d="M1113,1742 C1112.0,1742.3 1105.8,1742.7 1107,1744 C1108.2,1745.3 1115.8,1747.2 1120,1750 C1124.2,1752.8 1128.2,1754.7 1132,1761 C1135.8,1767.3 1141.2,1783.5 1143,1788"/>
<path d="M1102,1729 L1113,1742"/>
<path d="M886,1534 L996,1535 M1007,1535 L1023,1535 M1034,1535 L1141,1535 M1155,1535 L1171,1535 M1183,1534.5 L1287,1534.5 M1300,1534.5 L1339,1534.5"/>
<path d="M1003,1656 L1107,1658 M1122,1658.5 L1136,1659 M1149,1659 L1254,1661 M1266,1661 L1282,1661.5 M1300,1662 L1403,1663 M1415,1663 L1431,1663.5 M1447,1664 L1539,1665"/>
<!-- parts 25 35 28 26 -->
<path d="M1376,1434 L1376,1477"/>
<path d="M1376,1479 C1379.2,1480.8 1390.2,1486.7 1395,1490 C1399.8,1493.3 1402.2,1495.3 1405,1499 C1407.8,1502.7 1410.2,1507.5 1412,1512 C1413.8,1516.5 1414.7,1520.5 1416,1526 C1417.3,1531.5 1418.8,1539.5 1420,1545 C1421.2,1550.5 1422.2,1552.3 1423,1559 C1423.8,1565.7 1424.7,1577.2 1425,1585 C1425.3,1592.8 1425.0,1602.5 1425,1606"/>
<path d="M1425,1606 L1365,1620 L1356,1611 L1342,1597 L1340,1559 L1347,1555 L1351,1513"/>
<path d="M1351,1513 C1352.5,1510.2 1355.8,1501.7 1360,1496 C1364.2,1490.3 1373.3,1481.8 1376,1479"/>
<path d="M1358,1513 L1356,1611 M1362,1508 C1366,1530 1364,1580 1364,1612"/>
<path d="M1347,1555 L1352,1556 L1352,1600 L1342,1597 M1372,1585 L1372,1615"/>
<ellipse cx="1375" cy="1562" rx="7.5" ry="11"/><ellipse cx="1377" cy="1597" rx="7.5" ry="10.5"/><ellipse cx="1401" cy="1554" rx="7.5" ry="11"/><ellipse cx="1401" cy="1588" rx="7.5" ry="11"/>
<path d="M1370,1550 L1385,1548 L1388,1620 M1392,1545 L1410,1542 L1412,1610"/>
<path d="M1412,1520 L1418,1560 L1422,1585"/>
<path d="M1413,1506 C1415.8,1505.8 1423.8,1504.3 1430,1505 C1436.2,1505.7 1445.8,1507.8 1450,1510 C1454.2,1512.2 1454.2,1516.7 1455,1518"/>
<path d="M1416,1517 C1419.2,1516.8 1430.2,1515.8 1435,1516 C1439.8,1516.2 1443.3,1517.7 1445,1518"/>
<path d="M1454,1535 C1453.7,1540.0 1453.5,1555.3 1452,1565 C1450.5,1574.7 1447.7,1584.7 1445,1593 C1442.3,1601.3 1439.7,1608.7 1436,1615 C1432.3,1621.3 1429.7,1626.2 1423,1631 C1416.3,1635.8 1400.5,1641.8 1396,1644"/>
<path d="M1465,1535 C1464.7,1540.0 1464.5,1555.3 1463,1565 C1461.5,1574.7 1458.5,1584.2 1456,1593 C1453.5,1601.8 1451.3,1610.7 1448,1618 C1444.7,1625.3 1444.0,1631.5 1436,1637 C1428.0,1642.5 1406.0,1648.7 1400,1651"/>
<path d="M1378,1643 L1396,1642 L1399,1652 L1381,1654 C1375,1652 1374,1645 1378,1643 Z"/>
<path d="M1418,1526 L1472,1526"/>
<path d="M1504,1459 L1504,1501"/>
<path d="M1481,1521 L1518,1519 L1518,1533 L1483,1533 C1479,1530 1479,1524 1481,1521 Z M1487,1521 L1487,1533 M1492,1520 L1492,1533 M1497,1520 L1497,1533 M1502,1520 L1502,1533 M1507,1520 L1507,1533"/>
<path d="M1518,1516 C1520,1512 1528,1512 1533,1513 L1540,1515 C1545,1520 1545,1534 1540,1538 L1528,1540 C1522,1540 1518,1536 1518,1530 Z"/>
<path d="M1528,1519 L1537,1519 L1537,1533 L1528,1533 Z M1533,1513 C1528,1516 1527,1535 1533,1539"/>
<path d="M1543,1642 L1614,1604 L1625,1604 L1645,1653 L1623,1678 L1576,1693 L1563,1695 Z"/>
<path d="M1543,1642 L1558,1638 L1623,1606 M1558,1638 L1576,1693 M1561,1645 L1620,1615"/>
<path d="M1576,1632 L1596,1627 L1603,1657 L1584,1662 Z M1589,1631 L1594,1655 L1600,1654 L1596,1630"/>
<path d="M1607,1622 L1626,1617 L1630,1642 L1610,1647 Z M1612,1632 C1612,1625 1622,1625 1622,1632 L1622,1640 M1604,1630 L1612,1628"/>
<path d="M1578,1678 L1620,1665 L1623,1675 L1583,1688 Z M1581,1684 L1618,1672 M1588,1680 L1590,1688 M1602,1676 L1605,1683"/>
<path d="M1582,1702 L1582,1747"/>
<path d="M442,1430 L423,1445 L421,1510 L408,1524 L421,1534 L423,1601 L437,1621"/>
<path d="M433,1460 L480,1460 M436,1594 L558,1594 L601,1576"/>
<path d="M486,1447 C487.0,1444.5 488.0,1435.8 492,1432 C496.0,1428.2 503.8,1426.0 510,1424 C516.2,1422.0 523.8,1419.8 529,1420 C534.2,1420.2 538.3,1422.3 541,1425 C543.7,1427.7 544.3,1434.2 545,1436"/>
<path d="M486,1447 C487.2,1451.2 489.5,1460.3 493,1472 C496.5,1483.7 502.2,1501.8 507,1517 C511.8,1532.2 518.3,1553.8 522,1563 C525.7,1572.2 525.8,1570.7 529,1572 C532.2,1573.3 536.2,1573.2 541,1571 C545.8,1568.8 555.2,1563.2 558,1559 C560.8,1554.8 558.0,1548.2 558,1546"/>
<path d="M500,1446 L508,1443"/>
<path d="M510,1483 C511.7,1480.8 514.2,1476.0 520,1470 C525.8,1464.0 537.2,1454.0 545,1447 C552.8,1440.0 560.2,1432.3 567,1428 C573.8,1423.7 576.5,1422.5 586,1421 C595.5,1419.5 615.2,1417.2 624,1419 C632.8,1420.8 634.5,1422.5 639,1432 C643.5,1441.5 647.8,1461.2 651,1476 C654.2,1490.8 658.0,1510.3 658,1521 C658.0,1531.7 656.0,1534.0 651,1540 C646.0,1546.0 631.8,1554.2 628,1557"/>
<path d="M517,1487 C518.3,1485.2 519.2,1481.8 525,1476 C530.8,1470.2 544.5,1458.7 552,1452 C559.5,1445.3 563.7,1440.0 570,1436 C576.3,1432.0 581.3,1429.3 590,1428 C598.7,1426.7 614.8,1426.0 622,1428 C629.2,1430.0 629.3,1431.7 633,1440 C636.7,1448.3 641.2,1464.7 644,1478 C646.8,1491.3 650.0,1510.2 650,1520 C650.0,1529.8 648.0,1531.7 644,1537 C640.0,1542.3 629.0,1549.5 626,1552"/>
<path d="M515,1478 L520,1525 L527,1545"/>
<path d="M518,1489 C520.0,1486.7 526.3,1477.8 530,1475 C533.7,1472.2 537.8,1471.8 540,1472 C542.2,1472.2 542.2,1471.3 543,1476 C543.8,1480.7 544.2,1493.5 545,1500 C545.8,1506.5 548.3,1510.8 548,1515 C547.7,1519.2 546.0,1521.5 543,1525 C540.0,1528.5 532.2,1534.2 530,1536"/>
<path d="M518,1489 L529,1546 L611,1512 L592,1463 L580,1445 M592,1463 L543,1476"/>
<path d="M550,1481 L588,1468 L594,1485 L558,1497 C552,1496 549,1488 550,1481 Z"/>
<ellipse cx="573" cy="1481" rx="4" ry="4.5"/>
<path d="M533,1510 L540,1509 L542,1516 L534,1518 M530,1522 L543,1520 L544,1530 L531,1533 Z M560,1519 L595,1505"/>
<path d="M530,1480 L560,1452 M535,1490 L570,1450"/>
<path d="M605,1565 L625,1557 C632,1556 634,1568 628,1571 L612,1575 C604,1576 601,1568 605,1565 Z M628,1557 L641,1548 L650,1538"/>
<!-- bolt 7 right -->
<path d="M1293,341 L1282,342 C1278,344 1278,350 1282,352 L1293,353"/>
<path d="M1286,342 L1286,352 M1290,341 L1290,353"/>
<ellipse cx="1306.5" cy="345.5" rx="14" ry="17"/>
<path d="M1300,332 C1294,336 1293,355 1300,359 M1304,333 C1298,338 1298,354 1304,358"/>
<path d="M1316,337 C1310,334 1306,340 1306,346 C1306,352 1310,357 1316,354 M1311,343 L1316,346 L1311,349"/>
<path d="M1323,347 L1390,347"/>
</g>
<g font-family="Liberation Sans, sans-serif" font-size="44" fill="#111" stroke="#111" stroke-width="0.6">
<text x="878.7" y="21">3</text>
<text x="1308.2" y="302">5</text>
<text x="1392.8" y="362">7</text>
<text x="1311" y="410">13</text>
<text x="927.8" y="491">7</text>
<text x="1314.8" y="489">22</text>
<text x="930" y="600">12</text>
<text x="1555" y="603">14</text>
<text x="1412.8" y="651">20</text>
<text x="1292.8" y="661">22</text>
<text x="1602" y="679">15</text>
<text x="694.8" y="685">2</text>
<text x="1047" y="750">10</text>
<text x="1208" y="784">11</text>
<text x="1072.8" y="1096">6</text>
<text x="1348.8" y="1422">25</text>
<text x="1479.7" y="1447">35</text>
<text x="347.8" y="1541">26</text>
<text x="1557.8" y="1789">28</text>
</g>
<rect x="1048.5" y="1040" width="74.5" height="83" fill="#ff0000" fill-opacity="0.49"/>
<rect x="1049" y="1040.5" width="73.5" height="82" fill="none" stroke="#c06070" stroke-opacity="0.4" stroke-width="1"/>
<rect x="0" y="1915" width="1844" height="1" fill="#ebebeb"/>
<rect x="0" y="1916" width="1844" height="1" fill="#bdbdbd"/>
<rect x="0" y="1917" width="1844" height="1" fill="#888888"/>
<rect x="0" y="1918" width="1844" height="1" fill="#5e5e5e"/>
<rect x="0" y="1919" width="1844" height="181" fill="#646464"/>
<g font-family="Liberation Sans, sans-serif" fill="#ffffff" font-size="72">
<text x="516.7" y="2042" textLength="570" lengthAdjust="spacingAndGlyphs">VAG - 1K0953549</text>
<text x="1179.2" y="2042" textLength="146" lengthAdjust="spacingAndGlyphs">N - 6</text>
</g>
<g fill="#3f6178">
<text x="1503" y="2013" font-family="Liberation Sans, sans-serif" font-size="16" fill="#4a6070" textLength="90" lengthAdjust="spacingAndGlyphs">Powered by</text>
<text x="1500" y="2062" font-family="Liberation Sans, sans-serif" font-weight="bold" font-style="italic" font-size="43" stroke="#3f6178" stroke-width="1.6" textLength="334" lengthAdjust="spacingAndGlyphs">PARTSLINKER</text>
<text x="1503" y="2075" font-family="Liberation Sans, sans-serif" font-size="9" fill="#45596a" textLength="157" lengthAdjust="spacingAndGlyphs">Auto Parts Management Software</text>
<path d="M1461,2017 L1470,2017 L1472,2026 L1478,2023 L1484,2030 L1480,2036 L1486,2043 L1492,2062 L1485,2068 L1478,2064 L1472,2072 L1474,2082 L1466,2087 L1460,2080 L1450,2078 L1443,2082 L1436,2073 L1428,2072 L1420,2065 L1426,2058 L1420,2052 L1425,2044 L1419,2040 L1425,2032 L1433,2035 L1440,2028 L1448,2030 L1452,2024 Z"/>
</g>
<g fill="#646464">
<path d="M1440,2045 L1452,2040 L1460,2046 L1468,2040 L1474,2050 L1466,2056 L1456,2052 L1448,2058 Z"/>
</g>
</svg>
</body></html>
